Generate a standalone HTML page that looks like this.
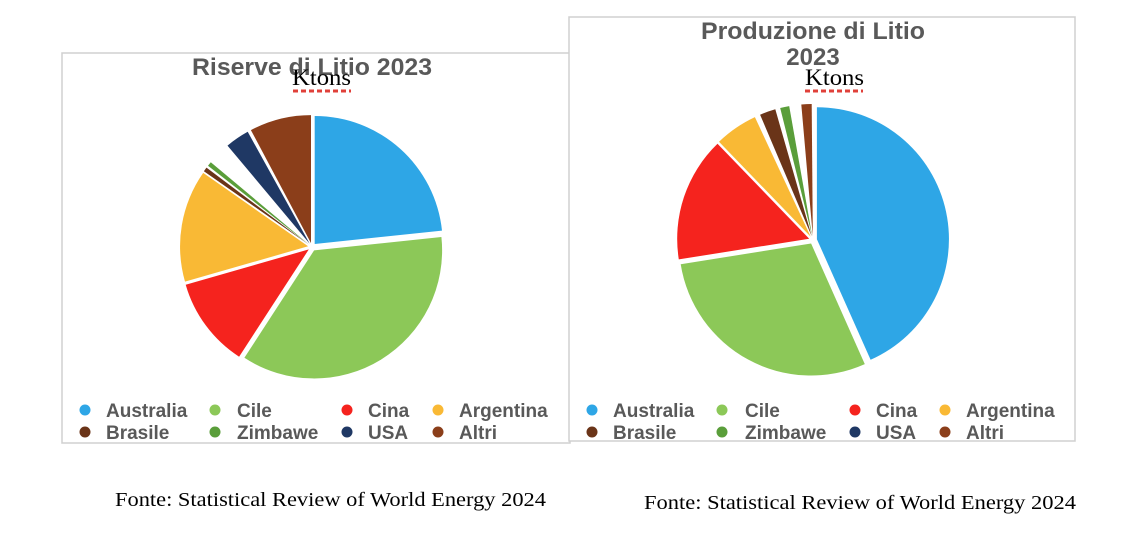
<!DOCTYPE html>
<html><head><meta charset="utf-8"><style>
body{margin:0;width:1148px;height:538px;background:#fff;overflow:hidden}
svg{position:absolute;left:0;top:0}
</style></head><body>
<svg width="1148" height="538" xmlns="http://www.w3.org/2000/svg" font-family="Liberation Sans, sans-serif">
<rect x="62" y="53" width="508" height="390" fill="#fff" stroke="#d0d0d0" stroke-width="1.5"/>
<rect x="569" y="17" width="506" height="424" fill="#fff" stroke="#d0d0d0" stroke-width="1.5"/>
<g id="p1"></g><g id="p2"></g>
<text x="192" y="75" font-size="24" font-weight="bold" fill="#595959" textLength="240" lengthAdjust="spacingAndGlyphs">Riserve di Litio 2023</text>
<text x="292" y="85" font-size="23" font-family="Liberation Serif, serif" fill="#000" textLength="59" lengthAdjust="spacingAndGlyphs">Ktons</text>
<line x1="293" y1="91" x2="351" y2="91" stroke="#e0403a" stroke-width="3" stroke-dasharray="5,3"/>
<text x="701" y="39" font-size="24" font-weight="bold" fill="#595959" textLength="224" lengthAdjust="spacingAndGlyphs">Produzione di Litio</text>
<text x="813" y="65" text-anchor="middle" font-size="24" font-weight="bold" fill="#595959">2023</text>
<text x="805" y="85" font-size="23" font-family="Liberation Serif, serif" fill="#000" textLength="59" lengthAdjust="spacingAndGlyphs">Ktons</text>
<line x1="805" y1="91" x2="863" y2="91" stroke="#e0403a" stroke-width="3" stroke-dasharray="5,3"/>
<g font-size="19" font-weight="bold" fill="#595959">
<circle cx="85" cy="410" r="5.5" fill="#2ea6e6"/><text x="106" y="417">Australia</text>
<circle cx="215" cy="410" r="5.5" fill="#8cc858"/><text x="237" y="417">Cile</text>
<circle cx="347" cy="410" r="5.5" fill="#f5231e"/><text x="368" y="417">Cina</text>
<circle cx="438" cy="410" r="5.5" fill="#f9b935"/><text x="459" y="417">Argentina</text>
<circle cx="85" cy="432" r="5.5" fill="#6a3418"/><text x="106" y="439">Brasile</text>
<circle cx="215" cy="432" r="5.5" fill="#5a9e3a"/><text x="237" y="439">Zimbawe</text>
<circle cx="347" cy="432" r="5.5" fill="#1f3864"/><text x="368" y="439">USA</text>
<circle cx="438" cy="432" r="5.5" fill="#8b3e1a"/><text x="459" y="439">Altri</text>
<circle cx="592" cy="410" r="5.5" fill="#2ea6e6"/><text x="613" y="417">Australia</text>
<circle cx="722" cy="410" r="5.5" fill="#8cc858"/><text x="745" y="417">Cile</text>
<circle cx="855" cy="410" r="5.5" fill="#f5231e"/><text x="876" y="417">Cina</text>
<circle cx="945" cy="410" r="5.5" fill="#f9b935"/><text x="966" y="417">Argentina</text>
<circle cx="592" cy="432" r="5.5" fill="#6a3418"/><text x="613" y="439">Brasile</text>
<circle cx="722" cy="432" r="5.5" fill="#5a9e3a"/><text x="745" y="439">Zimbawe</text>
<circle cx="855" cy="432" r="5.5" fill="#1f3864"/><text x="876" y="439">USA</text>
<circle cx="945" cy="432" r="5.5" fill="#8b3e1a"/><text x="966" y="439">Altri</text>
</g>
<g font-family="Liberation Serif, serif" font-size="20" fill="#000">
<text x="115" y="506" textLength="431" lengthAdjust="spacingAndGlyphs">Fonte: Statistical Review of World Energy 2024</text>
<text x="644" y="509" textLength="432" lengthAdjust="spacingAndGlyphs">Fonte: Statistical Review of World Energy 2024</text>
</g>
</svg>
<script>
function pie(id,cx,cy,r,sl){
 var g=document.getElementById(id),h='';
 sl.forEach(function(s){
  var a0=s[0],a1=s[1],m=(a0+a1)/2*Math.PI/180,off=4;
  var ox=cx+off*Math.sin(m),oy=cy-off*Math.cos(m);
  function pt(a){a=a*Math.PI/180;return (ox+r*Math.sin(a)).toFixed(1)+','+(oy-r*Math.cos(a)).toFixed(1);}
  var large=(a1-a0)>180?1:0;
  h+='<path d="M'+ox.toFixed(1)+','+oy.toFixed(1)+' L'+pt(a0)+' A'+r+','+r+' 0 '+large+' 1 '+pt(a1)+' Z" fill="'+s[2]+'"/>';
 });
 g.innerHTML=h;
}
pie('p1',312,247,128,[[0,84,'#2ea6e6'],[84,213,'#8cc858'],[213,254,'#f5231e'],[254,305,'#f9b935'],[305,307,'#6a3418'],[308,310,'#5a9e3a'],[320,331,'#1f3864'],[332,360,'#8b3e1a']]);
pie('p2',813,240,132,[[0,156,'#2ea6e6'],[156,261,'#8cc858'],[261,316,'#f5231e'],[316,335,'#f9b935'],[337,344,'#6a3418'],[346,350,'#5a9e3a'],[355,359.5,'#8b3e1a']]);
</script>
</body></html>
